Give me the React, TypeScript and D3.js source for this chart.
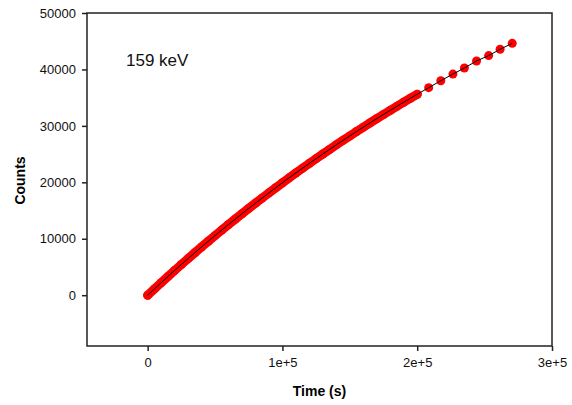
import { useRef, useEffect } from "react";
import * as d3 from "d3";

// dense acquisition, 0 .. 2e5 s every 5000 s
const denseTime = d3.range(0, 200001, 5000);
const denseCounts = [
  0, 1110, 2210, 3300, 4380, 5440, 6490, 7520, 8550, 9560,
  10560, 11540, 12520, 13480, 14440, 15380, 16310, 17220, 18130, 19030,
  19920, 20790, 21660, 22510, 23360, 24190, 25020, 25830, 26640, 27440,
  28220, 29000, 29770, 30530, 31280, 32020, 32750, 33480, 34190, 34900,
  35600,
];
// sparse tail
const tailTime = [208500, 217500, 226500, 235000, 244000, 253000, 261500, 270500];
const tailCounts = [36770, 38000, 39180, 40250, 41500, 42450, 43570, 44630];

const xTicks = [0, 100000, 200000, 300000];
const xTickLabels = ["0", "1e+5", "2e+5", "3e+5"];
const yTicks = [0, 10000, 20000, 30000, 40000, 50000];

const App = () => {
  const svgRef = useRef<SVGSVGElement>(null);

  useEffect(() => {
    const w = 572;
    const h = 405;
    const m = { left: 87, right: 552, top: 13, bottom: 346 };
    const font = "Liberation Sans, Arial, sans-serif";
    const svg = d3.select(svgRef.current).attr("width", w).attr("height", h);
    svg.selectAll("*").remove();
    svg.append("rect").attr("width", w).attr("height", h).attr("fill", "#fff");

    const x = d3.scaleLinear().domain([-45000, 300000]).range([m.left, m.right]);
    const y = d3.scaleLinear().domain([-9000, 50000]).range([m.bottom, m.top]);

    const dense = denseTime.map((t, i) => [t, denseCounts[i]] as [number, number]);
    const tail = tailTime.map((t, i) => [t, tailCounts[i]] as [number, number]);
    const all = dense.concat(tail);

    const line = d3
      .line<[number, number]>()
      .x((d) => x(d[0]))
      .y((d) => y(d[1]));

    // overlapping markers of the dense part form a band
    svg
      .append("path")
      .attr("d", line(dense))
      .attr("fill", "none")
      .attr("stroke", "#f00")
      .attr("stroke-width", 9)
      .attr("stroke-linecap", "round")
      .attr("stroke-linejoin", "round");

    svg
      .append("g")
      .selectAll("circle")
      .data(all)
      .join("circle")
      .attr("cx", (d) => x(d[0]))
      .attr("cy", (d) => y(d[1]))
      .attr("r", 4.5)
      .attr("fill", "#f00");

    // fit line
    svg
      .append("path")
      .attr("d", line(all))
      .attr("fill", "none")
      .attr("stroke", "#000")
      .attr("stroke-width", 1);

    // frame
    svg
      .append("rect")
      .attr("x", m.left)
      .attr("y", m.top)
      .attr("width", m.right - m.left)
      .attr("height", m.bottom - m.top)
      .attr("fill", "none")
      .attr("stroke", "#222")
      .attr("stroke-width", 1.5);

    const xAxis = d3
      .axisBottom(x)
      .tickValues(xTicks)
      .tickFormat((_, i) => xTickLabels[i])
      .tickSize(5)
      .tickSizeOuter(0)
      .tickPadding(7);
    const xg = svg.append("g").attr("transform", `translate(0,${m.bottom})`).call(xAxis);
    xg.select(".domain").remove();
    xg.selectAll("line").attr("stroke", "#222").attr("stroke-width", 1.5);
    xg.selectAll("text").attr("font-family", font).attr("font-size", 13).attr("fill", "#111");

    const yAxis = d3
      .axisLeft(y)
      .tickValues(yTicks)
      .tickFormat(d3.format("d"))
      .tickSize(5)
      .tickSizeOuter(0)
      .tickPadding(6);
    const yg = svg.append("g").attr("transform", `translate(${m.left},0)`).call(yAxis);
    yg.select(".domain").remove();
    yg.selectAll("line").attr("stroke", "#222").attr("stroke-width", 1.5);
    yg.selectAll("text").attr("font-family", font).attr("font-size", 13).attr("fill", "#111");

    svg
      .append("text")
      .attr("x", (m.left + m.right) / 2)
      .attr("y", 396)
      .attr("text-anchor", "middle")
      .attr("font-family", font)
      .attr("font-weight", "bold")
      .attr("font-size", 14)
      .text("Time (s)");

    svg
      .append("text")
      .attr("transform", `translate(25,${(m.top + m.bottom) / 2 + 1}) rotate(-90)`)
      .attr("text-anchor", "middle")
      .attr("font-family", font)
      .attr("font-weight", "bold")
      .attr("font-size", 14)
      .text("Counts");

    svg
      .append("text")
      .attr("x", 126)
      .attr("y", 66)
      .attr("font-family", font)
      .attr("font-size", 17)
      .attr("fill", "#111")
      .text("159 keV");
  }, []);

  return (
    <svg
      ref={svgRef}
      style={{ position: "absolute", left: 0, top: 0, display: "block" }}
    ></svg>
  );
};

export default App;
